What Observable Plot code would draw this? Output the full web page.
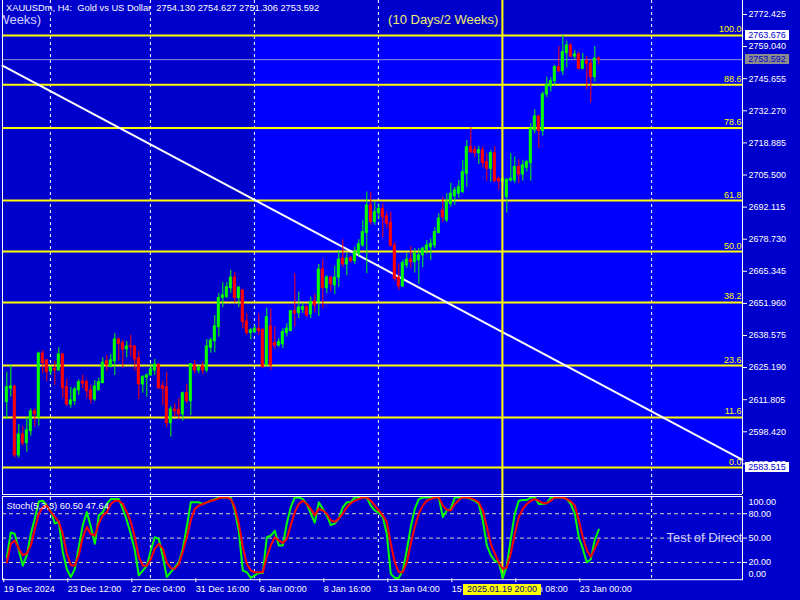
<!DOCTYPE html>
<html><head><meta charset="utf-8">
<script src="https://cdn.jsdelivr.net/npm/d3@7"></script>
<script src="https://cdn.jsdelivr.net/npm/@observablehq/plot@0.6"></script>
<style>
body{margin:0;background:#0000CC;}
#wrap{position:relative;width:800px;height:600px;background:#0000CC;overflow:hidden;font-family:"Liberation Sans",Arial,sans-serif;}
#wrap svg{position:absolute;left:0;}
.title{position:absolute;left:6px;top:3px;color:#fff;font-size:9.3px;line-height:11px;white-space:pre;}
.pbox{position:absolute;left:745px;width:44px;height:10px;font-size:9px;line-height:10px;text-align:center;color:#0000CC;}
.tbox{position:absolute;left:463px;top:584px;width:78px;height:11px;background:#FFFF00;color:#000080;font-size:9px;line-height:11px;text-align:center;white-space:pre;}
</style></head><body><div id="wrap"></div><script>
// ---------- data ----------
const symbolTitle = "XAUUSDm, H4:  Gold vs US Dollar  2754.130 2754.627 2751.306 2753.592";
const open = [
2610.8,2616.5,2617.3,2588.6,2597.3,2593.7,2598.7,2606.9,2604.5,2631.0,
2628.2,2623.6,2624.7,2624.0,2630.7,2617.0,2609.8,2611.2,2615.7,2619.4,
2619.1,2615.7,2611.9,2615.7,2618.7,2627.8,2625.4,2627.8,2636.9,2635.4,
2632.8,2634.1,2634.0,2629.1,2618.2,2621.0,2621.9,2624.0,2626.4,2617.5,
2617.0,2602.0,2607.7,2607.6,2605.7,2614.5,2611.2,2626.1,2624.0,2625.8,
2624.0,2633.5,2636.2,2642.1,2654.2,2654.6,2658.3,2662.7,2654.2,2657.4,
2644.4,2639.6,2640.0,2641.4,2641.0,2626.1,2642.4,2635.4,2634.4,2634.9,
2639.6,2640.4,2648.7,2647.9,2649.3,2650.4,2647.4,2652.8,2652.5,2666.1,
2658.3,2662.7,2659.5,2662.7,2670.6,2668.2,2670.8,2669.6,2672.7,2676.1,
2681.3,2692.8,2685.9,2689.6,2691.4,2688.2,2685.6,2676.1,2662.7,2659.0,
2667.8,2670.2,2669.2,2669.9,2672.0,2674.3,2675.4,2676.1,2681.3,2690.7,
2686.6,2693.5,2696.6,2697.7,2698.4,2706.0,2717.1,2716.0,2714.6,2715.8,
2710.9,2708.1,2714.6,2703.8,2702.8,2696.3,2703.2,2703.2,2708.8,2705.7,
2708.5,2710.5,2724.1,2729.9,2723.8,2739.1,2742.4,2744.6,2750.5,2748.8,
2756.3,2759.5,2754.9,2755.8,2749.8,2753.0,2751.9,2746.3,2754.130];
const high = [
2623.3,2626.1,2617.8,2601.5,2600.7,2604.5,2608.0,2608.0,2631.6,2632.3,
2628.6,2625.7,2627.8,2633.5,2631.0,2620.1,2617.0,2617.0,2620.1,2621.9,
2620.1,2617.8,2619.8,2620.8,2629.3,2630.3,2630.7,2639.3,2637.5,2636.5,
2636.1,2638.6,2634.2,2631.9,2621.9,2622.6,2626.8,2628.6,2626.6,2619.4,
2623.3,2609.0,2610.1,2612.2,2615.0,2618.2,2626.8,2628.2,2626.1,2627.5,
2636.9,2637.5,2646.9,2656.2,2660.6,2660.6,2665.7,2664.8,2659.0,2657.7,
2647.7,2641.4,2642.8,2647.7,2641.2,2650.0,2649.7,2642.1,2637.2,2641.4,
2643.5,2649.0,2664.3,2656.7,2651.8,2651.1,2654.6,2655.6,2668.2,2670.3,
2663.6,2663.2,2667.4,2674.1,2678.5,2672.7,2671.5,2675.4,2678.5,2686.6,
2698.4,2698.4,2694.2,2693.5,2693.5,2690.0,2690.0,2677.5,2668.5,2669.9,
2672.7,2675.7,2674.8,2674.8,2675.4,2678.2,2678.9,2683.5,2689.4,2696.2,
2697.8,2702.1,2700.3,2703.2,2711.6,2719.9,2725.2,2717.4,2717.4,2717.4,
2714.4,2715.8,2717.4,2704.6,2704.9,2703.9,2714.4,2713.0,2711.9,2711.6,
2711.6,2726.9,2732.7,2730.3,2740.1,2746.3,2746.1,2751.2,2759.1,2763.676,
2761.3,2760.5,2757.5,2756.7,2756.1,2754.9,2753.6,2759.1,2754.627];
const low = [
2603.6,2612.9,2587.4,2587.4,2592.4,2589.9,2596.6,2600.4,2600.8,2622.6,
2619.5,2621.9,2617.8,2623.8,2612.5,2609.0,2608.3,2609.4,2613.6,2616.4,
2612.5,2610.1,2611.1,2615.5,2618.5,2623.6,2625.2,2621.9,2627.8,2625.0,
2629.3,2629.6,2623.7,2611.9,2614.5,2612.9,2621.7,2621.9,2616.1,2609.4,
2600.1,2596.2,2604.5,2603.6,2602.9,2610.1,2605.2,2622.6,2622.6,2622.2,
2623.1,2631.2,2631.4,2637.9,2650.2,2653.9,2656.2,2652.1,2650.2,2641.4,
2638.6,2636.8,2639.3,2638.6,2624.8,2625.7,2624.0,2632.8,2633.7,2633.1,
2637.9,2640.2,2642.1,2645.6,2647.7,2646.0,2645.6,2647.9,2646.5,2649.7,
2656.0,2656.7,2655.7,2658.7,2666.8,2663.5,2668.8,2668.2,2671.3,2675.4,
2664.3,2684.5,2684.5,2686.9,2679.3,2683.3,2675.4,2661.2,2657.3,2658.7,
2666.4,2666.4,2664.6,2659.9,2666.8,2672.4,2669.9,2674.8,2681.0,2685.7,
2685.7,2692.1,2692.8,2695.7,2697.7,2700.4,2714.4,2712.7,2709.9,2708.5,
2702.9,2702.5,2702.4,2699.1,2700.7,2689.6,2702.5,2701.9,2701.9,2702.9,
2706.7,2702.9,2722.7,2716.5,2721.7,2737.7,2740.1,2742.4,2748.0,2747.0,
2750.2,2754.4,2753.6,2749.4,2749.4,2741.1,2735.5,2744.2,2751.306];
const close = [
2617.0,2617.3,2588.6,2597.3,2593.6,2599.0,2606.9,2605.7,2631.0,2627.1,
2623.3,2625.0,2624.0,2630.7,2616.6,2609.8,2611.5,2616.1,2619.1,2618.5,
2615.4,2611.9,2617.3,2619.1,2627.2,2626.1,2628.2,2636.9,2635.1,2632.8,
2634.0,2633.7,2628.6,2618.2,2621.2,2621.9,2624.4,2626.4,2616.6,2616.4,
2602.0,2607.7,2607.0,2605.7,2614.5,2611.2,2626.6,2624.0,2625.0,2624.0,
2634.0,2636.5,2642.4,2654.2,2655.3,2658.7,2662.7,2654.2,2658.5,2644.2,
2639.6,2640.7,2641.4,2640.3,2625.4,2646.2,2626.1,2634.4,2635.8,2640.0,
2641.4,2648.7,2647.7,2650.2,2650.4,2646.9,2652.5,2651.1,2666.1,2658.3,
2662.7,2659.9,2662.7,2670.2,2668.2,2670.6,2669.6,2673.3,2676.6,2681.7,
2692.8,2685.9,2690.0,2691.4,2687.9,2685.2,2676.1,2662.2,2659.0,2668.8,
2670.2,2669.2,2672.7,2672.0,2674.8,2676.1,2676.8,2681.7,2687.3,2687.8,
2694.2,2697.7,2699.1,2700.4,2706.7,2717.1,2715.0,2714.6,2715.8,2710.5,
2708.1,2714.6,2702.9,2702.9,2703.7,2703.5,2703.9,2708.8,2705.7,2709.5,
2710.9,2724.8,2729.9,2723.8,2739.1,2742.9,2744.6,2750.5,2748.8,2756.7,
2759.5,2754.9,2755.8,2749.8,2753.0,2751.9,2746.3,2754.0,2753.592];
const stochK = [
26,57,55,35,16,29,55,74,95,96, 90,83,68,70,33,12,2,12,39,66,
82,64,43,78,82,92,98,98,98,86, 72,55,35,4,10,16,35,51,49,27,
2,8,14,20,37,64,94,94,94,92, 94,96,98,100,100,100,100,84,59,10,
8,1,4,7,7,51,53,59,41,41, 68,88,100,100,98,92,80,69,94,86,
78,66,68,74,88,94,94,100,100,100, 100,90,84,81,76,55,6,1,1,10,
35,64,86,98,100,100,100,100,100,76, 84,86,100,100,100,100,98,96,92,72,
41,29,22,20,1,16,49,80,96,97, 97,100,100,92,92,93,100,100,100,100,
98,92,80,51,37,20,24,48,60.50];
const stochD = [
20,43,47,37,29,31,41,61,80,88, 90,82,76,70,55,31,17,16,29,51,
64,55,53,68,78,82,92,96,96,92, 82,70,51,27,16,16,24,37,43,37,
20,13,12,18,33,51,72,86,90,92, 94,96,97,99,100,100,98,88,68,39,
18,10,8,8,8,27,41,51,47,44, 49,66,82,92,96,92,86,78,86,84,
80,72,70,74,80,88,93,96,98,100, 100,96,90,84,78,70,43,20,8,8,
20,43,64,80,90,96,98,100,100,90, 85,84,92,97,100,100,99,97,94,84,
64,43,31,20,12,14,31,55,76,86, 92,96,98,96,93,93,96,100,100,100,
98,95,90,72,51,35,27,37,47.64];
const stochLabel = "Stoch(5,3,3) 60.50 47.64";
const fibLevels = [0, 11.6, 23.6, 38.2, 50.0, 61.8, 78.6, 88.6, 100.0];
const fibLow = 2583.515, fibHigh = 2763.676;
const lastPrice = 2753.592;
const priceTicks = [2772.425,2759.040,2745.655,2732.270,2718.885,2705.500,2692.115,2678.730,2665.345,2651.960,2638.575,2625.190,2611.805,2598.420,2585.035];
const stochLevels = [20, 50, 80];
const timeTickBars = [-1, 15, 31, 47, 63, 79, 95, 111, 127, 143];
const timeTickLabels = ["19 Dec 2024","23 Dec 12:00","27 Dec 04:00","31 Dec 16:00","6 Jan 00:00","8 Jan 16:00","13 Jan 04:00","15 Jan 20:00","17 Jan 08:00","23 Jan 00:00"];
const separatorBars = [10.9, 35.9, 61.9, 92.9, 161.2];
const vlineBar = 123.9, vlineLabel = "2025.01.19 20:00";
const rectStartBar = 61.9;
const trendBars = [-1.075, 183.925], trendPrices = [2751.1, 2586.7];
const noteText = "(10 Days/2 Weeks)";
const noteBars = [122.9, 8.6], notePrice = 2770.1;
const dirText = "Test of Direction", dirBar = 164.9, dirValue = 50;

// ---------- build ----------
const xDomain = [-1.075, 183.925];
const yDomain = [2572.27, 2778.26];
const bars = open.map((o, i) => ({i, o, h: high[i], l: low[i], c: close[i]}));
const colorOf = d => d.c >= d.o ? "#00FF00" : "#FF0000";
const fibs = fibLevels.map(l => ({p: fibLow + (fibHigh - fibLow) * l / 100, label: l.toFixed(1)}));
const trend = trendBars.map((b, k) => ({b, p: trendPrices[k]}));
const font = "Liberation Sans, Arial, sans-serif";
const wrap = document.getElementById("wrap");

const main = Plot.plot({
  width: 800, height: 495,
  marginLeft: 2, marginRight: 58, marginTop: 0, marginBottom: 1,
  style: {background: "transparent", color: "white", fontFamily: font, fontSize: "9px"},
  x: {domain: xDomain, axis: null},
  y: {domain: yDomain, axis: null},
  color: {type: "identity"},
  marks: [
    Plot.rect([{a: rectStartBar, b: xDomain[1], lo: fibLow, hi: fibHigh}], {x1: "a", x2: "b", y1: "lo", y2: "hi", fill: "#0000FF"}),
    Plot.ruleX(separatorBars, {stroke: "white", strokeDasharray: "3,3"}),
    Plot.ruleY(fibs, {y: "p", stroke: "#FFFF00", strokeWidth: 2}),
    Plot.text(fibs, {y: "p", text: "label", frameAnchor: "right", textAnchor: "end", lineAnchor: "bottom", dx: -1, dy: -3, fill: "#FFFF00", fontSize: 9}),
    Plot.ruleY([lastPrice], {stroke: "#9494D8"}),
    Plot.line(trend, {x: "b", y: "p", stroke: "white", strokeWidth: 2}),
    Plot.ruleX(bars, {x: "i", y1: "l", y2: "h", stroke: colorOf}),
    Plot.rect(bars, {x1: d => d.i - 0.375, x2: d => d.i + 0.375, y1: "o", y2: "c", fill: colorOf, insetTop: -0.5, insetBottom: -0.5}),
    Plot.ruleX([vlineBar], {stroke: "#FFFF00", strokeWidth: 2, insetBottom: -1}),
    Plot.text([noteText], {x: () => noteBars[0], y: () => notePrice, text: d => d, textAnchor: "end", fill: "#EEEE70", fontSize: 13}),
    Plot.text([noteText], {x: () => noteBars[1], y: () => notePrice, text: d => d, textAnchor: "end", fill: "#D0D0FF", fontSize: 13, clip: true}),
    Plot.axisY({anchor: "right", ticks: priceTicks, tickFormat: d => d.toFixed(3), tickSize: 4, tickPadding: 2, color: "white", label: null}),
    Plot.ruleX(xDomain, {stroke: "white"}),
    Plot.ruleY([yDomain[0]], {stroke: "white"})
  ]
});
main.style.top = "0px";
wrap.appendChild(main);

const kData = stochK.map((v, i) => ({i, v}));
const dData = stochD.map((v, i) => ({i, v}));
const labelMap = new Map(timeTickBars.map((b, k) => [b, timeTickLabels[k]]));

const sto = Plot.plot({
  width: 800, height: 105,
  marginLeft: 2, marginRight: 58, marginTop: 2, marginBottom: 21.8,
  style: {background: "transparent", color: "white", fontFamily: font, fontSize: "9px"},
  x: {domain: xDomain, axis: null},
  y: {domain: [0, 100], axis: null},
  marks: [
    Plot.ruleY(stochLevels, {stroke: "#D8D8C0", strokeDasharray: "4,3"}),
    Plot.ruleX(separatorBars, {stroke: "white", strokeDasharray: "3,3"}),
    Plot.ruleX([vlineBar], {stroke: "#FFFF00", strokeWidth: 2, insetTop: -2}),
    Plot.line(kData, {x: "i", y: "v", stroke: "#00FF00", strokeWidth: 2}),
    Plot.line(dData, {x: "i", y: "v", stroke: "#FF0000", strokeWidth: 2}),
    Plot.text([stochLabel], {frameAnchor: "top-left", lineAnchor: "middle", text: d => d, dx: 4, dy: 8.7, fill: "white", fontSize: 9.3}),
    Plot.text([dirText], {x: () => dirBar, y: () => dirValue, text: d => d, textAnchor: "start", fill: "#D0D0FF", fontSize: 13, clip: true}),
    Plot.axisY({anchor: "right", ticks: stochLevels, tickFormat: d => d.toFixed(2), tickSize: 4, tickPadding: 2, color: "white", label: null}),
    Plot.text([100], {y: d => d, text: d => d.toFixed(2), frameAnchor: "right", textAnchor: "start", dx: 6, dy: 4.5, fill: "white"}),
    Plot.text([0], {y: d => d, text: d => d.toFixed(2), frameAnchor: "right", textAnchor: "start", dx: 6, dy: -4.8, fill: "white"}),
    Plot.axisX({ticks: timeTickBars, tickFormat: d => labelMap.get(d), tickSize: 4, tickPadding: 3, textAnchor: "start", dx: 1, color: "white", label: null}),
    Plot.frame({stroke: "white", insetTop: -1, insetBottom: -1})
  ]
});
sto.style.top = "495px";
wrap.appendChild(sto);

// title and value boxes
const t = document.createElement("div");
t.className = "title"; t.textContent = symbolTitle; wrap.appendChild(t);
const ys = main.scale("y");
[[fibHigh, "#FFFFFF"], [lastPrice, "#8C8C8C"], [fibLow, "#FFFFFF"]].forEach(([p, bg]) => {
  const b = document.createElement("div");
  b.className = "pbox";
  b.style.top = (ys.apply(p) - 5) + "px";
  b.style.background = bg;
  b.textContent = p.toFixed(3);
  wrap.appendChild(b);
});
const tb = document.createElement("div");
tb.className = "tbox"; tb.textContent = vlineLabel; wrap.appendChild(tb);
</script></body></html>
